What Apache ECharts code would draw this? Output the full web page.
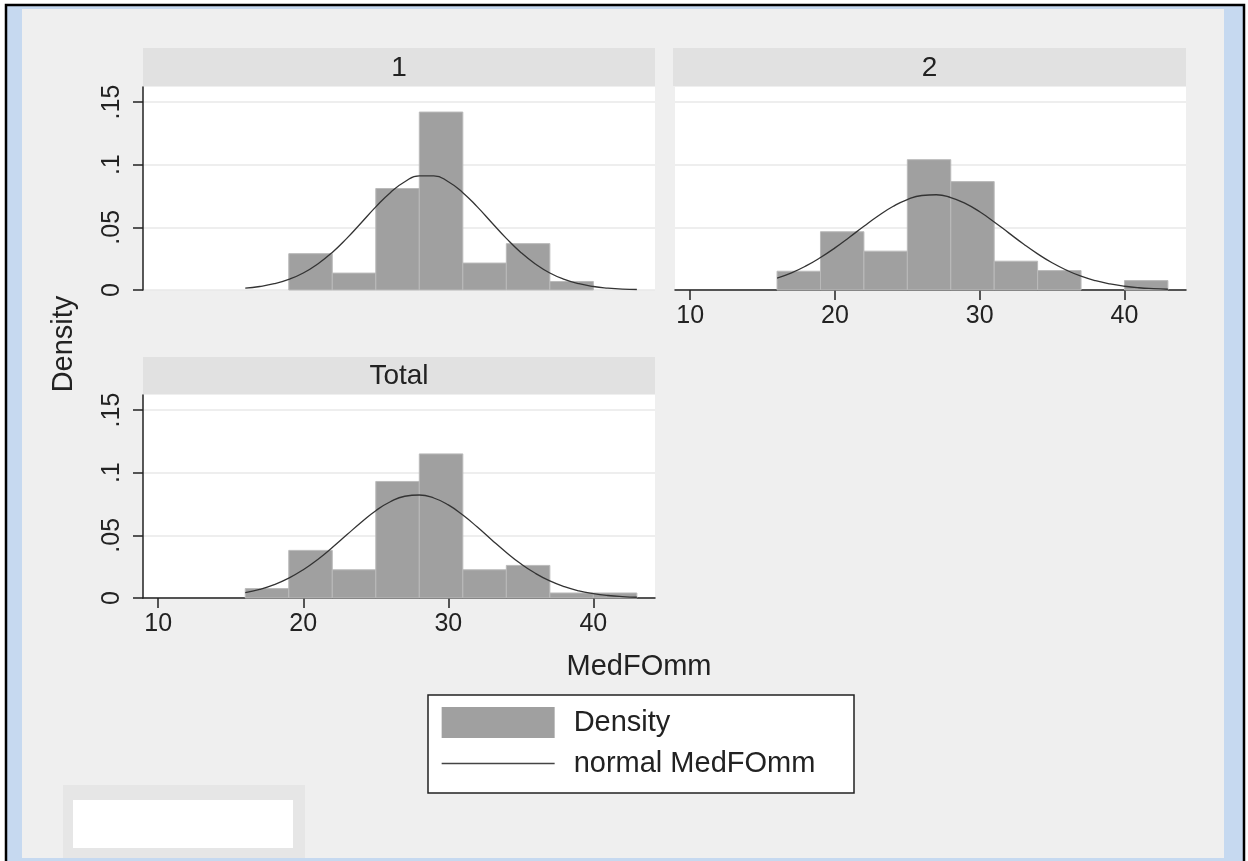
<!DOCTYPE html>
<html>
<head>
<meta charset="utf-8">
<title>MedFOmm by group</title>
<script src="https://cdn.jsdelivr.net/npm/echarts@6/dist/echarts.min.js"></script>
<style>
  html, body { margin: 0; padding: 0; background: #fff; }
  #chart { width: 1248px; height: 861px; }
</style>
</head>
<body>
<div id="chart"></div>
<script>
// histogram bins of MedFOmm (width 3)
var binEdges = [16, 19, 22, 25, 28, 31, 34, 37, 40, 43];
var dens1 = [0, 0.029, 0.0135, 0.081, 0.142, 0.0215, 0.037, 0.0068, 0];
var dens2 = [0.015, 0.0465, 0.031, 0.104, 0.0865, 0.023, 0.0155, 0, 0.0075];
var densTotal = [0.0075, 0.038, 0.0225, 0.093, 0.115, 0.0225, 0.026, 0.004, 0.004];

// normal curves at each mm
var curveX = [16, 17, 18, 19, 20, 21, 22, 23, 24, 25, 26, 27, 28, 29,
              30, 31, 32, 33, 34, 35, 36, 37, 38, 39, 40, 41, 42, 43];
var normal1 = [0.0015, 0.0028, 0.005, 0.0085, 0.0136, 0.0208, 0.030, 0.0412, 0.0537, 0.0663,
               0.0777, 0.0864, 0.0911, 0.0911, 0.0864, 0.0777, 0.0663, 0.0537, 0.0412, 0.030,
               0.0208, 0.0136, 0.0085, 0.005, 0.0028, 0.0015, 0.0007, 0.0004];
var normal2 = [0.0095, 0.0137, 0.0192, 0.0259, 0.0336, 0.0421, 0.0509, 0.0593, 0.0666, 0.0722,
               0.0754, 0.0760, 0.0738, 0.0691, 0.0624, 0.0543, 0.0456, 0.0369, 0.0288, 0.0217,
               0.0158, 0.0110, 0.0074, 0.0048, 0.0030, 0.0018, 0.0011, 0.0006];
var normalTotal = [0.0043, 0.0069, 0.0107, 0.0159, 0.0226, 0.0308, 0.0403, 0.0504, 0.0605, 0.0697,
                   0.0768, 0.0812, 0.0822, 0.0798, 0.0743, 0.0662, 0.0566, 0.0463, 0.0364, 0.0273,
                   0.0197, 0.0136, 0.0090, 0.0057, 0.0035, 0.0020, 0.0011, 0.0006];

var panelNames = ['1', '2', 'Total'];
var xTicks = [10, 20, 30, 40];
var yTicks = [0, 0.05, 0.1, 0.15];
var yTickLabels = ['0', '.05', '.1', '.15'];

var FONT = '"Liberation Sans", Arial, sans-serif';
var INK = '#222';
var BAR = '#a0a0a0';

function binData(dens) {
  var out = [];
  for (var i = 0; i < dens.length; i++) {
    if (dens[i] > 0) out.push([binEdges[i], binEdges[i + 1], dens[i]]);
  }
  return out;
}

function lineData(ys) {
  return curveX.map(function (x, i) { return [x, ys[i]]; });
}

function renderBin(params, api) {
  var p0 = api.coord([api.value(0), 0]);
  var p1 = api.coord([api.value(1), api.value(2)]);
  return {
    type: 'rect',
    shape: { x: p0[0], y: p1[1], width: p1[0] - p0[0], height: p0[1] - p1[1] },
    style: { fill: api.visual('color'), stroke: '#bababa', lineWidth: 1 }
  };
}

function xAxisFor(i, show) {
  return {
    type: 'value', gridIndex: i, min: 8.95, max: 44.25,
    axisLine: { show: show, onZero: false, lineStyle: { color: INK, width: 1.5 } },
    axisTick: { show: show, length: 10, customValues: xTicks, lineStyle: { color: INK, width: 1.5 } },
    axisLabel: { show: show, customValues: xTicks, margin: 14, fontSize: 25, color: INK, fontFamily: FONT },
    splitLine: { show: false }
  };
}

function yAxisFor(i, show) {
  return {
    type: 'value', gridIndex: i, min: 0, max: 0.162,
    axisLine: { show: show, onZero: false, lineStyle: { color: INK, width: 1.5 } },
    axisTick: { show: show, length: 10, customValues: yTicks, lineStyle: { color: INK, width: 1.5 } },
    axisLabel: {
      show: show, customValues: yTicks, rotate: 90, margin: 18,
      fontSize: 25, color: INK, fontFamily: FONT,
      formatter: function (v) {
        for (var k = 0; k < yTicks.length; k++) {
          if (Math.abs(yTicks[k] - v) < 1e-9) return yTickLabels[k];
        }
        return '';
      }
    },
    splitLine: { show: true, lineStyle: { color: '#e9e9e9', width: 1.5 } }
  };
}

function header(x, y, w, h, label) {
  return [
    { type: 'rect', shape: { x: x, y: y, width: w, height: h }, style: { fill: '#e1e1e1' }, z: -5 },
    { type: 'text', x: x + w / 2, y: y + h / 2 + 1,
      style: { text: label, font: '28px ' + FONT, fill: INK, align: 'center', verticalAlign: 'middle' }, z: -4 }
  ];
}

var grids = [
  { left: 143, top: 87, width: 512, height: 203 },
  { left: 675, top: 87, width: 511, height: 203 },
  { left: 143, top: 395, width: 512, height: 203 }
];
grids.forEach(function (g) {
  g.show = true; g.backgroundColor = '#fff'; g.borderWidth = 0; g.containLabel = false;
});

var chart = echarts.init(document.getElementById('chart'));

var graphics = [
  // frame
  { type: 'rect', shape: { x: 6, y: 5, width: 1238, height: 870 }, style: { fill: '#c6d9f0', stroke: '#000', lineWidth: 2.5 }, z: -20 },
  { type: 'rect', shape: { x: 22, y: 9, width: 1202, height: 849 }, style: { fill: '#efefef' }, z: -19 },
  // empty note box bottom-left
  { type: 'rect', shape: { x: 63, y: 785, width: 242, height: 73 }, style: { fill: '#e6e6e6' }, z: -18 },
  { type: 'rect', shape: { x: 73, y: 800, width: 220, height: 48 }, style: { fill: '#fff' }, z: -17 },
  // legend box
  { type: 'rect', shape: { x: 428, y: 695, width: 426, height: 98 }, style: { fill: '#fff', stroke: INK, lineWidth: 1.5 }, z: -10 },
  // shared axis titles
  { type: 'text', x: 64, y: 344, rotation: Math.PI / 2,
    style: { text: 'Density', font: '29px ' + FONT, fill: INK, align: 'center', verticalAlign: 'middle' } },
  { type: 'text', x: 639, y: 667,
    style: { text: 'MedFOmm', font: '29px ' + FONT, fill: INK, align: 'center', verticalAlign: 'middle' } }
]
  .concat(header(143, 48, 512, 38, panelNames[0]))
  .concat(header(673, 48, 513, 38, panelNames[1]))
  .concat(header(143, 357, 512, 37, panelNames[2]));

var densities = [dens1, dens2, densTotal];
var normals = [normal1, normal2, normalTotal];
var series = [];
for (var i = 0; i < 3; i++) {
  series.push({
    name: 'Density', type: 'custom', xAxisIndex: i, yAxisIndex: i,
    renderItem: renderBin, encode: { x: [0, 1], y: 2 },
    itemStyle: { color: BAR }, data: binData(densities[i]), z: 2
  });
  series.push({
    name: 'normal MedFOmm', type: 'line', xAxisIndex: i, yAxisIndex: i,
    data: lineData(normals[i]), smooth: 0.5,
    symbol: 'none', showSymbol: false,
    itemStyle: { color: '#333' },
    lineStyle: { color: '#333', width: 1.3 }, z: 3
  });
}

chart.setOption({
  animation: false,
  backgroundColor: '#fff',
  textStyle: { fontFamily: FONT },
  grid: grids,
  xAxis: [xAxisFor(0, false), xAxisFor(1, true), xAxisFor(2, true)],
  yAxis: [yAxisFor(0, true), yAxisFor(1, false), yAxisFor(2, true)],
  legend: {
    orient: 'vertical', left: 441, top: 707, padding: 0,
    itemWidth: 113, itemHeight: 31, itemGap: 11,
    selectedMode: false,
    data: [
      { name: 'Density', icon: 'rect' },
      { name: 'normal MedFOmm', itemStyle: { opacity: 0 }, lineStyle: { color: '#444', width: 1.3 } }
    ],
    textStyle: { fontSize: 29, color: INK, fontFamily: FONT, padding: [0, 0, 0, 14] }
  },
  graphic: graphics,
  series: series
});
</script>
</body>
</html>
